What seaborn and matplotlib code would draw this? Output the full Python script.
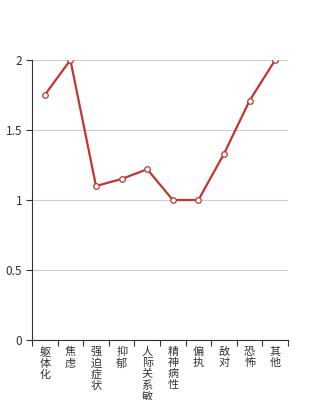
import matplotlib
matplotlib.use("Agg")
import matplotlib.pyplot as plt
import seaborn as sns
import pandas as pd
from matplotlib.ticker import FixedLocator

categories = ["躯体化", "焦虑", "强迫症状", "抑郁", "人际关系敏感", "精神病性", "偏执", "敌对", "恐怖", "其他"]
values = [1.75, 2.0, 1.1, 1.15, 1.22, 1.0, 1.0, 1.33, 1.71, 2.0]
y_ticks = [0, 0.5, 1, 1.5, 2]
y_tick_labels = ["0", "0.5", "1", "1.5", "2"]

sns.set_style("white")
plt.rcParams['font.family'] = ['Noto Sans CJK SC', 'DejaVu Sans']

df = pd.DataFrame({"x": list(range(len(categories))), "y": values})

fig = plt.figure(figsize=(3.2, 4.0), dpi=100)
ax = fig.add_axes([0.1, 0.15, 0.8, 0.7])
sns.lineplot(data=df, x="x", y="y", ax=ax, color="#c23531", linewidth=1.6,
             marker="o", markersize=4, markerfacecolor="white",
             markeredgecolor="#c23531", markeredgewidth=0.9, zorder=3)

ax.set_xlim(-0.5, len(categories) - 0.5)
ax.set_ylim(0, 2)
ax.set_xlabel("")
ax.set_ylabel("")

ax.set_yticks(y_ticks)
ax.set_yticklabels(y_tick_labels, fontsize=8.5, color="#333333")
ax.yaxis.grid(True, color="#cccccc", linewidth=0.8)
ax.set_axisbelow(True)

ax.xaxis.set_major_locator(FixedLocator(list(range(len(categories)))))
ax.set_xticklabels(["\n".join(c) for c in categories], fontsize=8, color="#333333",
                   va="top", linespacing=1.12)
ax.xaxis.set_minor_locator(FixedLocator([i - 0.5 for i in range(len(categories) + 1)]))
ax.tick_params(axis="x", which="major", bottom=True, length=0, pad=5)
ax.tick_params(axis="x", which="minor", bottom=True, length=4, width=0.8, color="#333333", direction="out")
ax.tick_params(axis="y", which="major", left=True, length=4, width=0.8, color="#333333", direction="out", pad=3)

for s in ["top", "right"]:
    ax.spines[s].set_visible(False)
for s in ["left", "bottom"]:
    ax.spines[s].set_color("#333333")
    ax.spines[s].set_linewidth(0.8)

fig.savefig("out.png", dpi=100)
